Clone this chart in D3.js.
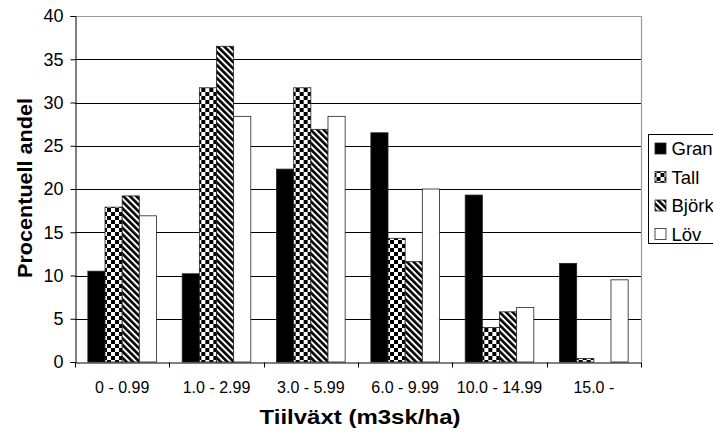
<!DOCTYPE html>
<html>
<head>
<meta charset="utf-8">
<script src="https://cdn.jsdelivr.net/npm/d3@7"></script>
<style>
  html, body { margin: 0; padding: 0; background: #fff; }
  svg { display: block; font-family: "Liberation Sans", Arial, sans-serif; }
</style>
</head>
<body>
<svg id="chart" width="713" height="432"></svg>
<script>
// Tillväxtklasser och andel (%) per trädslag
const categories = ["0 - 0.99", "1.0 - 2.99", "3.0 - 5.99", "6.0 - 9.99", "10.0 - 14.99", "15.0 -"];
const seriesNames = ["Gran", "Tall", "Björk", "Löv"];
const gran  = [10.5, 10.2, 22.3, 26.5, 19.3, 11.4];
const tall  = [17.9, 31.7, 31.7, 14.3, 4.0, 0.4];
const bjork = [19.2, 36.5, 26.9, 11.6, 5.8, 0];
const lov   = [16.9, 28.4, 28.4, 20.0, 6.3, 9.5];
const yTicks = [0, 5, 10, 15, 20, 25, 30, 35, 40];

const seriesValues = [gran, tall, bjork, lov];
const fills = ["#000", "url(#checker)", "url(#diag)", "#fff"];

const svg = d3.select("#chart");
const plot = { left: 75, top: 16, right: 641, bottom: 362 };

// fill patterns
const defs = svg.append("defs");
const checker = defs.append("pattern").attr("id", "checker")
  .attr("patternUnits", "userSpaceOnUse").attr("width", 8).attr("height", 8);
checker.append("rect").attr("width", 8).attr("height", 8).attr("fill", "#fff");
checker.append("rect").attr("width", 4).attr("height", 4).attr("fill", "#000");
checker.append("rect").attr("x", 4).attr("y", 4).attr("width", 4).attr("height", 4).attr("fill", "#000");

const diag = defs.append("pattern").attr("id", "diag")
  .attr("patternUnits", "userSpaceOnUse").attr("width", 4.6).attr("height", 4.6)
  .attr("patternTransform", "rotate(-45)");
diag.append("rect").attr("width", 4.6).attr("height", 4.6).attr("fill", "#fff");
diag.append("rect").attr("width", 2.6).attr("height", 4.6).attr("fill", "#000");

// scales
const x0 = d3.scaleBand().domain(categories).range([plot.left, plot.right]).padding(0);
const bw = x0.bandwidth();
const barW = bw / 5.5;
const x1 = d3.scaleBand().domain(seriesNames).range([barW * 0.75, bw - barW * 0.75]).padding(0);
const y = d3.scaleLinear().domain([0, 40]).range([plot.bottom, plot.top]);

// horizontal gridlines
svg.append("g").selectAll("line").data(yTicks.filter(t => t > 0 && t < 40)).join("line")
  .attr("x1", plot.left).attr("x2", plot.right)
  .attr("y1", d => Math.round(y(d)) + 0.5).attr("y2", d => Math.round(y(d)) + 0.5)
  .attr("stroke", "#000").attr("stroke-width", 1);

// plot area border (top and right)
svg.append("path")
  .attr("d", `M${plot.left},${plot.top + 0.5}H${plot.right + 0.5}V${plot.bottom}`)
  .attr("fill", "none").attr("stroke", "#9a9a9a").attr("stroke-width", 1.2);

// bars
const groups = svg.append("g").selectAll("g").data(categories).join("g")
  .attr("transform", d => `translate(${x0(d)},0)`);
groups.selectAll("rect")
  .data((c, ci) => seriesNames.map((s, si) => ({ s, si, v: seriesValues[si][ci] })).filter(d => d.v > 0))
  .join("rect")
  .attr("x", d => x1(d.s))
  .attr("y", d => y(d.v))
  .attr("width", x1.bandwidth())
  .attr("height", d => y(0) - y(d.v))
  .attr("fill", d => fills[d.si])
  .attr("stroke", "#222").attr("stroke-width", 0.8);

// y axis
const yAxis = svg.append("g").attr("transform", `translate(${plot.left + 0.5},0)`)
  .call(d3.axisLeft(y).tickValues(yTicks).tickSize(5).tickPadding(7).tickFormat(d3.format("d")));
yAxis.select(".domain").attr("stroke", "#000");
yAxis.selectAll(".tick line").attr("stroke", "#000");
yAxis.selectAll("text").attr("font-size", 18).attr("fill", "#000")
  .attr("font-family", "'Liberation Sans', Arial, sans-serif");

// x axis
const xAxis = svg.append("g").attr("transform", `translate(0,${plot.bottom + 0.5})`)
  .call(d3.axisBottom(x0).tickSize(0).tickPadding(19));
xAxis.select(".domain").attr("stroke", "#000");
xAxis.selectAll("text").attr("font-size", 16).attr("fill", "#000")
  .attr("font-family", "'Liberation Sans', Arial, sans-serif");
// tick marks at category boundaries
const bounds = categories.map(c => x0(c)).concat([plot.right]);
xAxis.append("g").selectAll("line").data(bounds).join("line")
  .attr("x1", d => Math.round(d) + 0.5).attr("x2", d => Math.round(d) + 0.5)
  .attr("y1", 0).attr("y2", 5).attr("stroke", "#000");

// axis titles
svg.append("text")
  .attr("x", 360).attr("y", 424)
  .attr("text-anchor", "middle")
  .attr("font-size", 21).attr("font-weight", "bold")
  .attr("textLength", 201).attr("lengthAdjust", "spacingAndGlyphs")
  .text("Tiilväxt (m3sk/ha)");

svg.append("text")
  .attr("transform", "translate(32,188) rotate(-90)")
  .attr("text-anchor", "middle")
  .attr("font-size", 20).attr("font-weight", "bold")
  .attr("textLength", 180).attr("lengthAdjust", "spacingAndGlyphs")
  .text("Procentuell andel");

// legend
const legend = svg.append("g").attr("transform", "translate(648.5,134.5)");
legend.append("rect").attr("width", 120).attr("height", 109)
  .attr("fill", "#fff").attr("stroke", "#000").attr("stroke-width", 1);
const items = legend.selectAll("g.item").data(seriesNames).join("g")
  .attr("class", "item")
  .attr("transform", (d, i) => `translate(0,${14 + i * 28.5})`);
items.append("rect")
  .attr("x", 6.5).attr("y", -5.5).attr("width", 11).attr("height", 11)
  .attr("fill", (d, i) => fills[i]).attr("stroke", "#222").attr("stroke-width", 0.8);
items.append("text")
  .attr("x", 23).attr("y", 6.5)
  .attr("font-size", 18.5).attr("fill", "#000")
  .text(d => d);
</script>
</body>
</html>
